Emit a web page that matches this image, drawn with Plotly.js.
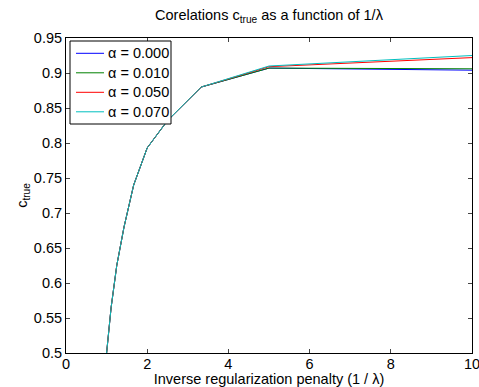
<!DOCTYPE html>
<html>
<head>
<meta charset="utf-8">
<script src="https://cdn.plot.ly/plotly-3.0.1.min.js"></script>
<style>html,body{margin:0;padding:0;background:#fff;}#chart{width:479px;height:387px;}</style>
</head>
<body>
<div id="chart"></div>
<script>
// x = 1/lambda
const invLambda = [1, 1.111, 1.25, 1.429, 1.667, 2, 2.5, 3.333, 5, 10];
const seriesNames = ['α = 0.000', 'α = 0.010', 'α = 0.050', 'α = 0.070'];
const alpha000 = [0.500, 0.565, 0.625, 0.680, 0.740, 0.793, 0.832, 0.880, 0.907, 0.904];
const alpha010 = [0.500, 0.565, 0.625, 0.680, 0.740, 0.793, 0.832, 0.880, 0.907, 0.906];
const alpha050 = [0.500, 0.565, 0.625, 0.680, 0.740, 0.793, 0.832, 0.880, 0.909, 0.922];
const alpha070 = [0.500, 0.565, 0.625, 0.680, 0.740, 0.793, 0.832, 0.880, 0.910, 0.925];
const colors = ['rgb(0,0,255)', 'rgb(0,128,0)', 'rgb(255,0,0)', 'rgb(0,191,191)'];
const yTickVals = [0.5, 0.55, 0.6, 0.65, 0.7, 0.75, 0.8, 0.85, 0.9, 0.95];
const yTickText = ['0.5', '0.55', '0.6', '0.65', '0.7', '0.75', '0.8', '0.85', '0.9', '0.95'];
const xTickVals = [0, 2, 4, 6, 8, 10];

const allSeries = [alpha000, alpha010, alpha050, alpha070];
const traces = allSeries.map((ys, i) => ({
  x: invLambda, y: ys, type: 'scatter', mode: 'lines', name: seriesNames[i],
  line: {color: colors[i], width: 1}, showlegend: false
}));

const FS = 14.5;
const font = {family: 'Liberation Sans, Arial, sans-serif', color: '#000'};
const W = 479, H = 387, M = {l: 66, r: 7, t: 38, b: 34};
const pw = W - M.l - M.r, ph = H - M.t - M.b;
const px = v => (v - M.l) / pw;       // pixel -> paper x
const py = v => 1 - (v - M.t) / ph;   // pixel -> paper y

// Legend box (MATLAB-style), built from the series names and colours
const shapes = [{type: 'rect', xref: 'paper', yref: 'paper', x0: px(70), x1: px(171), y0: py(41), y1: py(124),
                 line: {color: '#000', width: 1}, fillcolor: '#fff', layer: 'above'}];
const annotations = [];
seriesNames.forEach((name, i) => {
  const rowY = 53.3 + i * 19.5;
  shapes.push({type: 'line', xref: 'paper', yref: 'paper', x0: px(76), x1: px(104), y0: py(rowY), y1: py(rowY),
               line: {color: colors[i], width: 1}, layer: 'above'});
  annotations.push({xref: 'paper', yref: 'paper', x: px(106), y: py(rowY), xanchor: 'left', yanchor: 'middle',
                    text: name, showarrow: false, font: Object.assign({size: FS}, font)});
});

const layout = {
  width: W, height: H,
  margin: M,
  paper_bgcolor: '#fff', plot_bgcolor: '#fff',
  font: Object.assign({size: FS}, font),
  title: {text: 'Corelations c<sub>true</sub> as a function of 1/λ', font: Object.assign({size: FS}, font),
          x: 0.5, xref: 'paper', y: 1 - 15/387, yref: 'container', yanchor: 'middle'},
  xaxis: {range: [0, 10], tickvals: xTickVals, ticks: 'inside', ticklen: 4, mirror: 'ticks',
          showline: true, linecolor: '#000', linewidth: 1, showgrid: false, zeroline: false,
          ticklabeloverflow: 'allow', ticklabelstandoff: -2,
          tickfont: Object.assign({size: FS}, font),
          title: {text: 'Inverse regularization penalty (1 / λ)', font: Object.assign({size: FS}, font), standoff: 3}},
  yaxis: {range: [0.5, 0.95], tickvals: yTickVals, ticktext: yTickText, ticks: 'inside', ticklen: 4, mirror: 'ticks',
          showline: true, linecolor: '#000', linewidth: 1, showgrid: false, zeroline: false,
          ticklabeloverflow: 'allow',
          tickfont: Object.assign({size: FS}, font),
          title: {text: 'c<sub>true</sub>', font: Object.assign({size: FS}, font), standoff: 2}},
  showlegend: false,
  shapes: shapes,
  annotations: annotations
};
Plotly.newPlot('chart', traces, layout, {displayModeBar: false, staticPlot: true});
</script>
</body>
</html>
